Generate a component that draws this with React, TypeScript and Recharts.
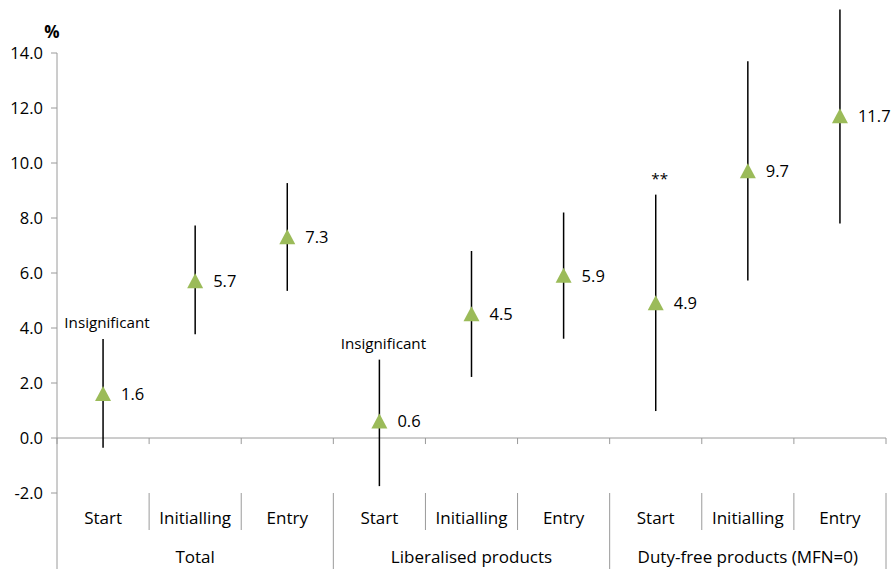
import React from 'react';
import { ScatterChart, Scatter, XAxis, YAxis, ErrorBar, ReferenceLine, ReferenceDot } from 'recharts';

// Stages and product groups along the category axis
const stages = ['Start', 'Initialling', 'Entry'];
const groups = ['Total', 'Liberalised products', 'Duty-free products (MFN=0)'];

// Point estimates (%) and confidence interval bounds per category
const estimates = [1.6, 5.7, 7.3, 0.6, 4.5, 5.9, 4.9, 9.7, 11.7];
const upperBounds = [3.6, 7.73, 9.27, 2.85, 6.8, 8.2, 8.85, 13.7, 15.58];
const lowerBounds = [-0.35, 3.77, 5.35, -1.75, 2.22, 3.61, 0.98, 5.73, 7.8];
const notes = ['Insignificant', '', '', 'Insignificant', '', '', '**', '', ''];

const yTicks = [-2, 0, 2, 4, 6, 8, 10, 12, 14];

const FONT = '"Open Sans", sans-serif';
const AXIS_GREY = '#9a9a9a';
const MARKER_GREEN = '#9BBB59';

const nCats = estimates.length;
const points = estimates.map((v, i) => ({
  pos: i + 0.5,
  value: v,
  err: [v - lowerBounds[i], upperBounds[i] - v],
}));
const noteRows = upperBounds
  .map((u, i) => ({ pos: i + 0.5, value: u, note: notes[i] }))
  .filter((r) => r.note);
const boundaries = Array.from({ length: nCats + 1 }, (_, k) => k);
const xTicks = Array.from({ length: 2 * nCats + 1 }, (_, k) => k / 2);

// Multi-level category axis: separators on boundaries, labels on centres
const CategoryTick = (props: any) => {
  const { x, y, payload } = props;
  const v: number = payload.value;
  if (Number.isInteger(v)) {
    const long = v % stages.length === 0;
    return <line x1={x} x2={x} y1={y} y2={y + (long ? 76 : 37)} stroke={AXIS_GREY} strokeWidth={1} />;
  }
  const c = Math.floor(v);
  const stage = stages[c % stages.length];
  const isMiddle = c % stages.length === 1;
  return (
    <g>
      <text x={x} y={y + 31} textAnchor="middle" fontSize={17} fill="#000" fontFamily={FONT}>
        {stage}
      </text>
      {isMiddle && (
        <text x={x} y={y + 70} textAnchor="middle" fontSize={17} fill="#000" fontFamily={FONT}>
          {groups[Math.floor(c / stages.length)]}
        </text>
      )}
    </g>
  );
};

const MarkerShape = (props: any) => {
  const { cx, cy, payload } = props;
  return (
    <g>
      <polygon points={`${cx},${cy - 8} ${cx + 8},${cy + 7} ${cx - 8},${cy + 7}`} fill={MARKER_GREEN} />
      <text x={cx + 18} y={cy} dy="0.36em" fontSize={16.5} fill="#000" fontFamily={FONT}>
        {payload.value.toFixed(1)}
      </text>
    </g>
  );
};

const NoteShape = (props: any) => {
  const { cx, cy, payload } = props;
  return (
    <text x={cx + 4} y={cy - 11} textAnchor="middle" fontSize={15.2} fill="#000" fontFamily={FONT}>
      {payload.note}
    </text>
  );
};

const PercentMark = (props: any) => (
  <text x={props.cx - 5} y={props.cy - 15} textAnchor="middle" fontSize={17} fontWeight="bold" fill="#000" fontFamily={FONT}>
    %
  </text>
);

export default function App() {
  return (
    <div style={{ position: 'absolute', left: 0, top: 0, fontFamily: FONT, background: '#fff' }}>
      <ScatterChart width={895} height={569} margin={{ top: 9, right: 9, bottom: 0, left: 0 }}>
        <XAxis
          type="number"
          dataKey="pos"
          domain={[0, nCats]}
          ticks={xTicks}
          interval={0}
          axisLine={false}
          tickLine={false}
          tickSize={0}
          tickMargin={0}
          height={76}
          tick={<CategoryTick />}
        />
        <YAxis
          type="number"
          dataKey="value"
          domain={[-2, 15.6]}
          ticks={yTicks}
          interval={0}
          width={57}
          axisLine={false}
          tickLine={{ stroke: AXIS_GREY }}
          tickSize={6}
          tickMargin={8}
          tick={{ fill: '#000', fontSize: 16.5, fontFamily: FONT }}
          tickFormatter={(v: number) => v.toFixed(1)}
        />
        <ReferenceLine
          segment={[{ x: 0, y: 14 }, { x: 0, y: -2 }]}
          stroke={AXIS_GREY}
          strokeWidth={1}
          ifOverflow="visible"
        />
        <ReferenceLine y={0} stroke={AXIS_GREY} strokeWidth={1} />
        {boundaries.map((k) => (
          <ReferenceLine
            key={`b${k}`}
            segment={[{ x: k, y: 0 }, { x: k, y: -0.22 }]}
            stroke={AXIS_GREY}
            strokeWidth={1}
            ifOverflow="visible"
          />
        ))}
        <ReferenceDot x={0} y={14} r={0} shape={<PercentMark />} ifOverflow="visible" />
        <Scatter data={points} shape={<MarkerShape />} isAnimationActive={false}>
          <ErrorBar dataKey="err" direction="y" width={0} stroke="#000" strokeWidth={1.5} isAnimationActive={false} />
        </Scatter>
        <Scatter data={noteRows} shape={<NoteShape />} isAnimationActive={false} />
      </ScatterChart>
    </div>
  );
}
